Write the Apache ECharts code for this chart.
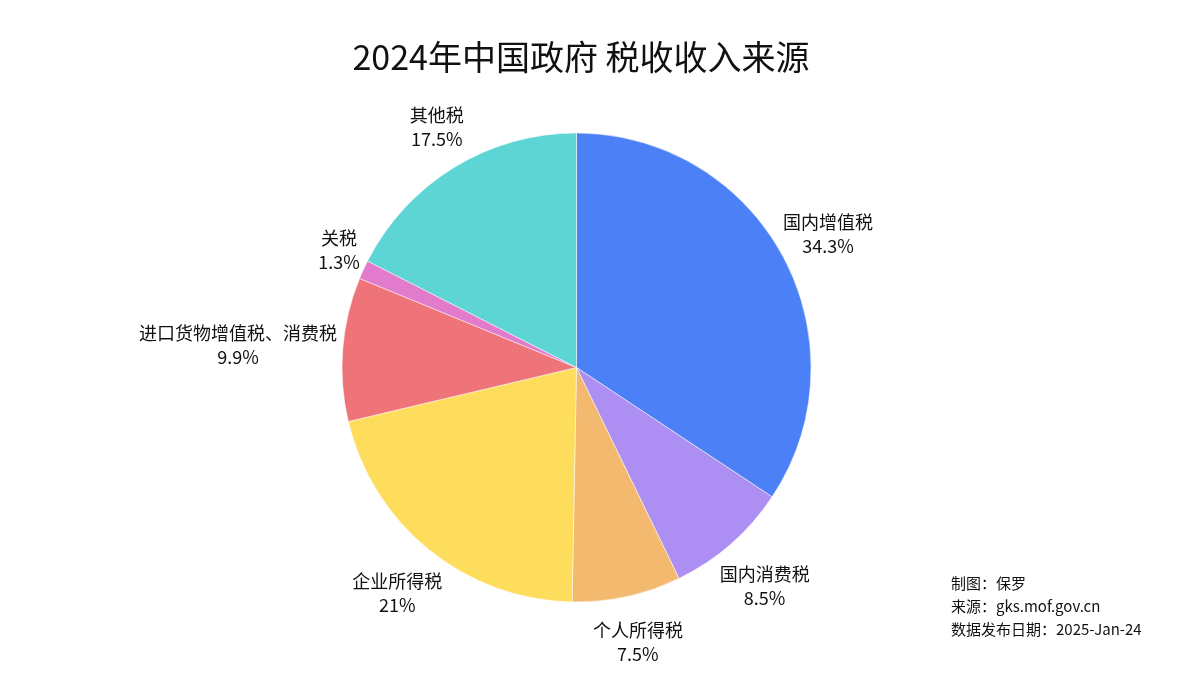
<!DOCTYPE html>
<html>
<head>
<meta charset="utf-8">
<script src="https://cdn.jsdelivr.net/npm/echarts@6/dist/echarts.min.js"></script>
<style>
  html, body { margin: 0; padding: 0; background: #fff; }
  #chart { width: 1200px; height: 675px; }
</style>
</head>
<body>
<div id="chart"></div>
<script>
var categories = ['国内增值税', '国内消费税', '个人所得税', '企业所得税', '进口货物增值税、消费税', '关税', '其他税'];
var shares     = [34.3, 8.5, 7.5, 21, 9.9, 1.3, 17.5];
var colors     = ['#4c80f7', '#ad8ef3', '#f3b96f', '#fedd5c', '#ef7479', '#e27bcb', '#5dd5d5'];
var footLines  = ['制图：保罗', '来源：gks.mof.gov.cn', '数据发布日期：2025-Jan-24'];

var FONT = '"Noto Sans CJK SC", "Noto Sans", sans-serif';

var data = categories.map(function (c, i) {
    return { name: c, value: shares[i], itemStyle: { color: colors[i] } };
});

var chart = echarts.init(document.getElementById('chart'));
chart.setOption({
    backgroundColor: '#fff',
    animation: false,
    title: {
        text: '2024年中国政府 税收收入来源',
        left: 576,
        textAlign: 'center',
        top: 35,
        textStyle: { fontFamily: FONT, fontSize: 34, fontWeight: 'normal', color: '#111' }
    },
    graphic: [{
        type: 'text',
        left: 951,
        top: 572,
        style: {
            text: footLines.join('\n'),
            fontFamily: FONT,
            fontSize: 15,
            lineHeight: 23,
            fill: '#111'
        }
    }],
    series: [{
        type: 'pie',
        center: [576.5, 367.5],
        radius: 234.5,
        startAngle: 90,
        clockwise: true,
        avoidLabelOverlap: false,
        itemStyle: { borderColor: '#fff', borderWidth: 0.5 },
        label: {
            show: true,
            position: 'outside',
            formatter: function (p) { return '{a|' + p.name + '}\n{b|' + p.value + '%}'; },
            rich: {
                a: { fontFamily: FONT, fontSize: 18, lineHeight: 24, color: '#111', align: 'center' },
                b: { fontFamily: FONT, fontSize: 18, lineHeight: 24, color: '#111', align: 'center' }
            }
        },
        labelLine: { show: true, length: 10, length2: 0, lineStyle: { opacity: 0, width: 0 } },
        labelLayout: function (p) {
            var pts = p.labelLinePoints;
            if (!pts) return {};
            var dx = pts[1][0] - pts[0][0], dy = pts[1][1] - pts[0][1];
            var len = Math.sqrt(dx * dx + dy * dy) || 1;
            dx /= len; dy /= len;
            var hw = p.labelRect.width / 2, hh = p.labelRect.height / 2;
            return {
                x: pts[0][0] + dx * (hw + 6),
                y: pts[0][1] + dy * (hh + 26) + (dy > 0.5 && dy < 0.9 ? 7 : 0),
                align: 'center',
                verticalAlign: 'middle'
            };
        },
        emphasis: { disabled: true },
        data: data
    }]
});
</script>
</body>
</html>
